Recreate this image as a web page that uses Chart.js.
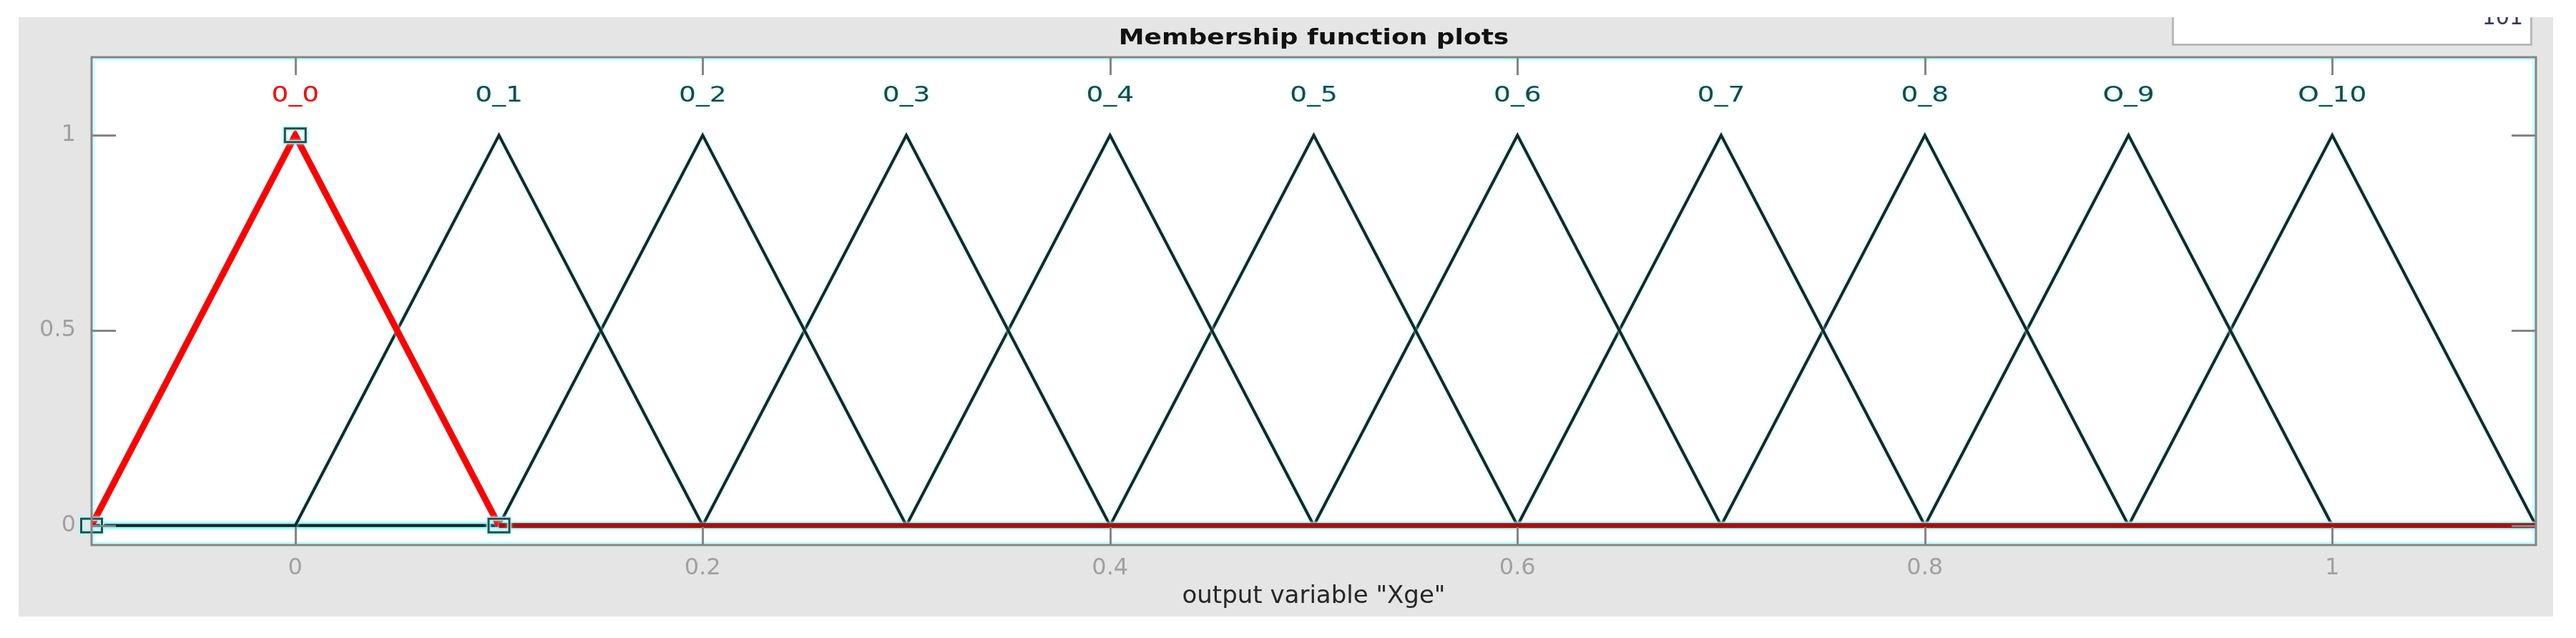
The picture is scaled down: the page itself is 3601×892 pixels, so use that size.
<!DOCTYPE html>
<html><head><meta charset="utf-8">
<script src="https://cdn.jsdelivr.net/npm/chart.js@4/dist/chart.umd.min.js"></script>
<style>
html,body{margin:0;padding:0;background:#fff;}
#wrap{position:relative;width:3601px;height:892px;overflow:hidden;}
#c{position:absolute;left:0;top:0;}
#box{position:absolute;left:3036px;top:24px;width:498px;height:37px;background:#fff;border:3px solid #b9b9b9;border-top:none;overflow:hidden;}
#box span{position:absolute;right:10px;top:-15px;font:30px "DejaVu Sans";line-height:30px;color:#3f3656;}
</style></head><body>
<div id="wrap"><canvas id="c" width="3601" height="892"></canvas><div id="box"><span>101</span></div></div>
<script>
// ---- data ----
const mfNames = ['0_0','0_1','0_2','0_3','0_4','0_5','0_6','0_7','0_8','O_9','O_10'];
const mfParams = [
  [-0.1, 0.0, 0.1], [0.0, 0.1, 0.2], [0.1, 0.2, 0.3], [0.2, 0.3, 0.4],
  [0.3, 0.4, 0.5], [0.4, 0.5, 0.6], [0.5, 0.6, 0.7], [0.6, 0.7, 0.8],
  [0.7, 0.8, 0.9], [0.8, 0.9, 1.0], [0.9, 1.0, 1.1]
];
const selectedMf = 0;
const xRange = [-0.1, 1.1];
const yRange = [-0.05, 1.2];
const xTicks = [0, 0.2, 0.4, 0.6, 0.8, 1];
const yTicks = [0, 0.5, 1];
const labelLevel = 1.1;
const titleText = 'Membership function plots';
const xTitle = 'output variable "Xge"';

// ---- datasets ----
function mfPoints(p) {
  return [
    {x: xRange[0], y: 0}, {x: p[0], y: 0}, {x: p[1], y: 1}, {x: p[2], y: 0}, {x: xRange[1], y: 0}
  ];
}
const isBase = c => c.p0.parsed.y === 0 && c.p1.parsed.y === 0;
const datasets = mfParams.map((p, i) => {
  const isSel = i === selectedMf;
  return {
    label: mfNames[i],
    data: mfPoints(p),
    showLine: true,
    borderColor: isSel ? '#ff0000' : '#1a2626',
    borderWidth: isSel ? 9 : 4,
    pointRadius: 0,
    order: isSel ? 0 : 1,
    tension: 0,
    segment: isSel ? {
      borderColor: c => isBase(c) ? '#a51010' : '#ff0000',
      borderWidth: c => isBase(c) ? 7 : 9
    } : undefined
  };
});

// square marker image
const mk = document.createElement('canvas');
mk.width = 36; mk.height = 26;
(function(){
  const g = mk.getContext('2d');
  g.strokeStyle = '#b8ffff'; g.lineWidth = 5; g.strokeRect(3.5, 3.5, 29, 19);
  g.strokeStyle = '#2f4a4a'; g.lineWidth = 3; g.strokeRect(3.5, 3.5, 29, 19);
})();
const sel = mfParams[selectedMf];
datasets.push({
  label: 'vertices',
  data: [{x: sel[0], y: 0}, {x: sel[1], y: 1}, {x: sel[2], y: 0}],
  showLine: false,
  pointStyle: mk,
  pointRadius: 14,
  order: -1,
  clip: false
});

const shadowPlugin = {
  id: 'halo',
  beforeDatasetDraw(chart) {
    const ctx = chart.ctx; ctx.save();
    ctx.shadowColor = 'rgba(150,255,255,1)'; ctx.shadowBlur = 4;
  },
  afterDatasetDraw(chart) { chart.ctx.restore(); }
};

const panelPlugin = {
  id: 'panel',
  beforeDraw(chart) {
    const ctx = chart.ctx, a = chart.chartArea;
    ctx.save();
    ctx.fillStyle = '#ffffff'; ctx.fillRect(0, 0, chart.width, chart.height);
    ctx.fillStyle = '#e5e5e5'; ctx.fillRect(26, 24, 3569 - 26, 862 - 24);
    ctx.fillStyle = '#ffffff'; ctx.fillRect(a.left, a.top, a.right - a.left, a.bottom - a.top);
    ctx.strokeStyle = '#ccffff'; ctx.lineWidth = 4;
    ctx.strokeRect(a.left + 3, a.top + 3, a.right - a.left - 6, a.bottom - a.top - 6);
    // title
    ctx.font = 'bold 30px "DejaVu Sans"';
    ctx.fillStyle = '#111111'; ctx.textAlign = 'center'; ctx.textBaseline = 'middle';
    ctx.translate((a.left + a.right) / 2, 54);
    ctx.scale(1.2, 1);
    ctx.fillText(titleText, 0, 0);
    ctx.restore();
  }
};

const framePlugin = {
  id: 'frame',
  afterDatasetsDraw(chart) {
    const ctx = chart.ctx, a = chart.chartArea;
    const xs = chart.scales.x, ys = chart.scales.y;
    ctx.save();
    ctx.strokeStyle = '#858585'; ctx.lineWidth = 3;
    ctx.beginPath();
    xTicks.forEach(v => {
      const px = Math.round(xs.getPixelForValue(v)) + 0.5;
      ctx.moveTo(px, a.bottom); ctx.lineTo(px, a.bottom - 25);
      ctx.moveTo(px, a.top); ctx.lineTo(px, a.top + 25);
    });
    yTicks.forEach(v => {
      const py = Math.round(ys.getPixelForValue(v)) + 0.5;
      ctx.moveTo(a.left, py); ctx.lineTo(a.left + 34, py);
      ctx.moveTo(a.right, py); ctx.lineTo(a.right - 34, py);
    });
    ctx.stroke();
    ctx.strokeRect(a.left, a.top, a.right - a.left, a.bottom - a.top);
    // MF labels
    ctx.font = '30px "DejaVu Sans"';
    ctx.textAlign = 'center'; ctx.textBaseline = 'middle';
    ctx.shadowColor = 'rgba(140,255,255,1)'; ctx.shadowBlur = 5;
    mfParams.forEach((p, i) => {
      const px = xs.getPixelForValue(p[1]);
      const py = ys.getPixelForValue(labelLevel);
      ctx.save();
      ctx.translate(px, py); ctx.scale(1.25, 1);
      ctx.fillStyle = i === selectedMf ? '#ff0000' : '#244444';
      ctx.fillText(mfNames[i], 0, 0);
      ctx.restore();
    });
    ctx.restore();
  }
};

Chart.defaults.font.family = '"DejaVu Sans"';
new Chart(document.getElementById('c'), {
  type: 'scatter',
  data: { datasets },
  options: {
    responsive: false,
    devicePixelRatio: 1,
    animation: false,
    events: [],
    layout: { padding: { left: 0, right: 56, top: 80, bottom: 0 } },
    plugins: {
      legend: { display: false },
      tooltip: { enabled: false },
      title: { display: false }
    },
    scales: {
      x: {
        type: 'linear', min: xRange[0], max: xRange[1],
        afterBuildTicks: s => { s.ticks = xTicks.map(v => ({ value: v })); },
        afterFit: s => { s.height = 130; },
        grid: { display: false, drawTicks: false },
        border: { display: false },
        ticks: { color: '#a0a0a0', font: { size: 32 }, padding: 13, maxRotation: 0, autoSkip: false,
                 callback: v => String(v) },
        title: { display: true, text: xTitle, color: '#262626', font: { size: 34 },
                 padding: { top: 0, bottom: 37 } }
      },
      y: {
        type: 'linear', min: yRange[0], max: yRange[1],
        afterBuildTicks: s => { s.ticks = yTicks.map(v => ({ value: v })); },
        afterFit: s => { s.width = 128; },
        grid: { display: false, drawTicks: false },
        border: { display: false },
        ticks: { color: '#a0a0a0', font: { size: 32 }, padding: 22, autoSkip: false,
                 callback: v => String(v) }
      }
    }
  },
  plugins: [panelPlugin, shadowPlugin, framePlugin]
});
</script>
</body></html>
